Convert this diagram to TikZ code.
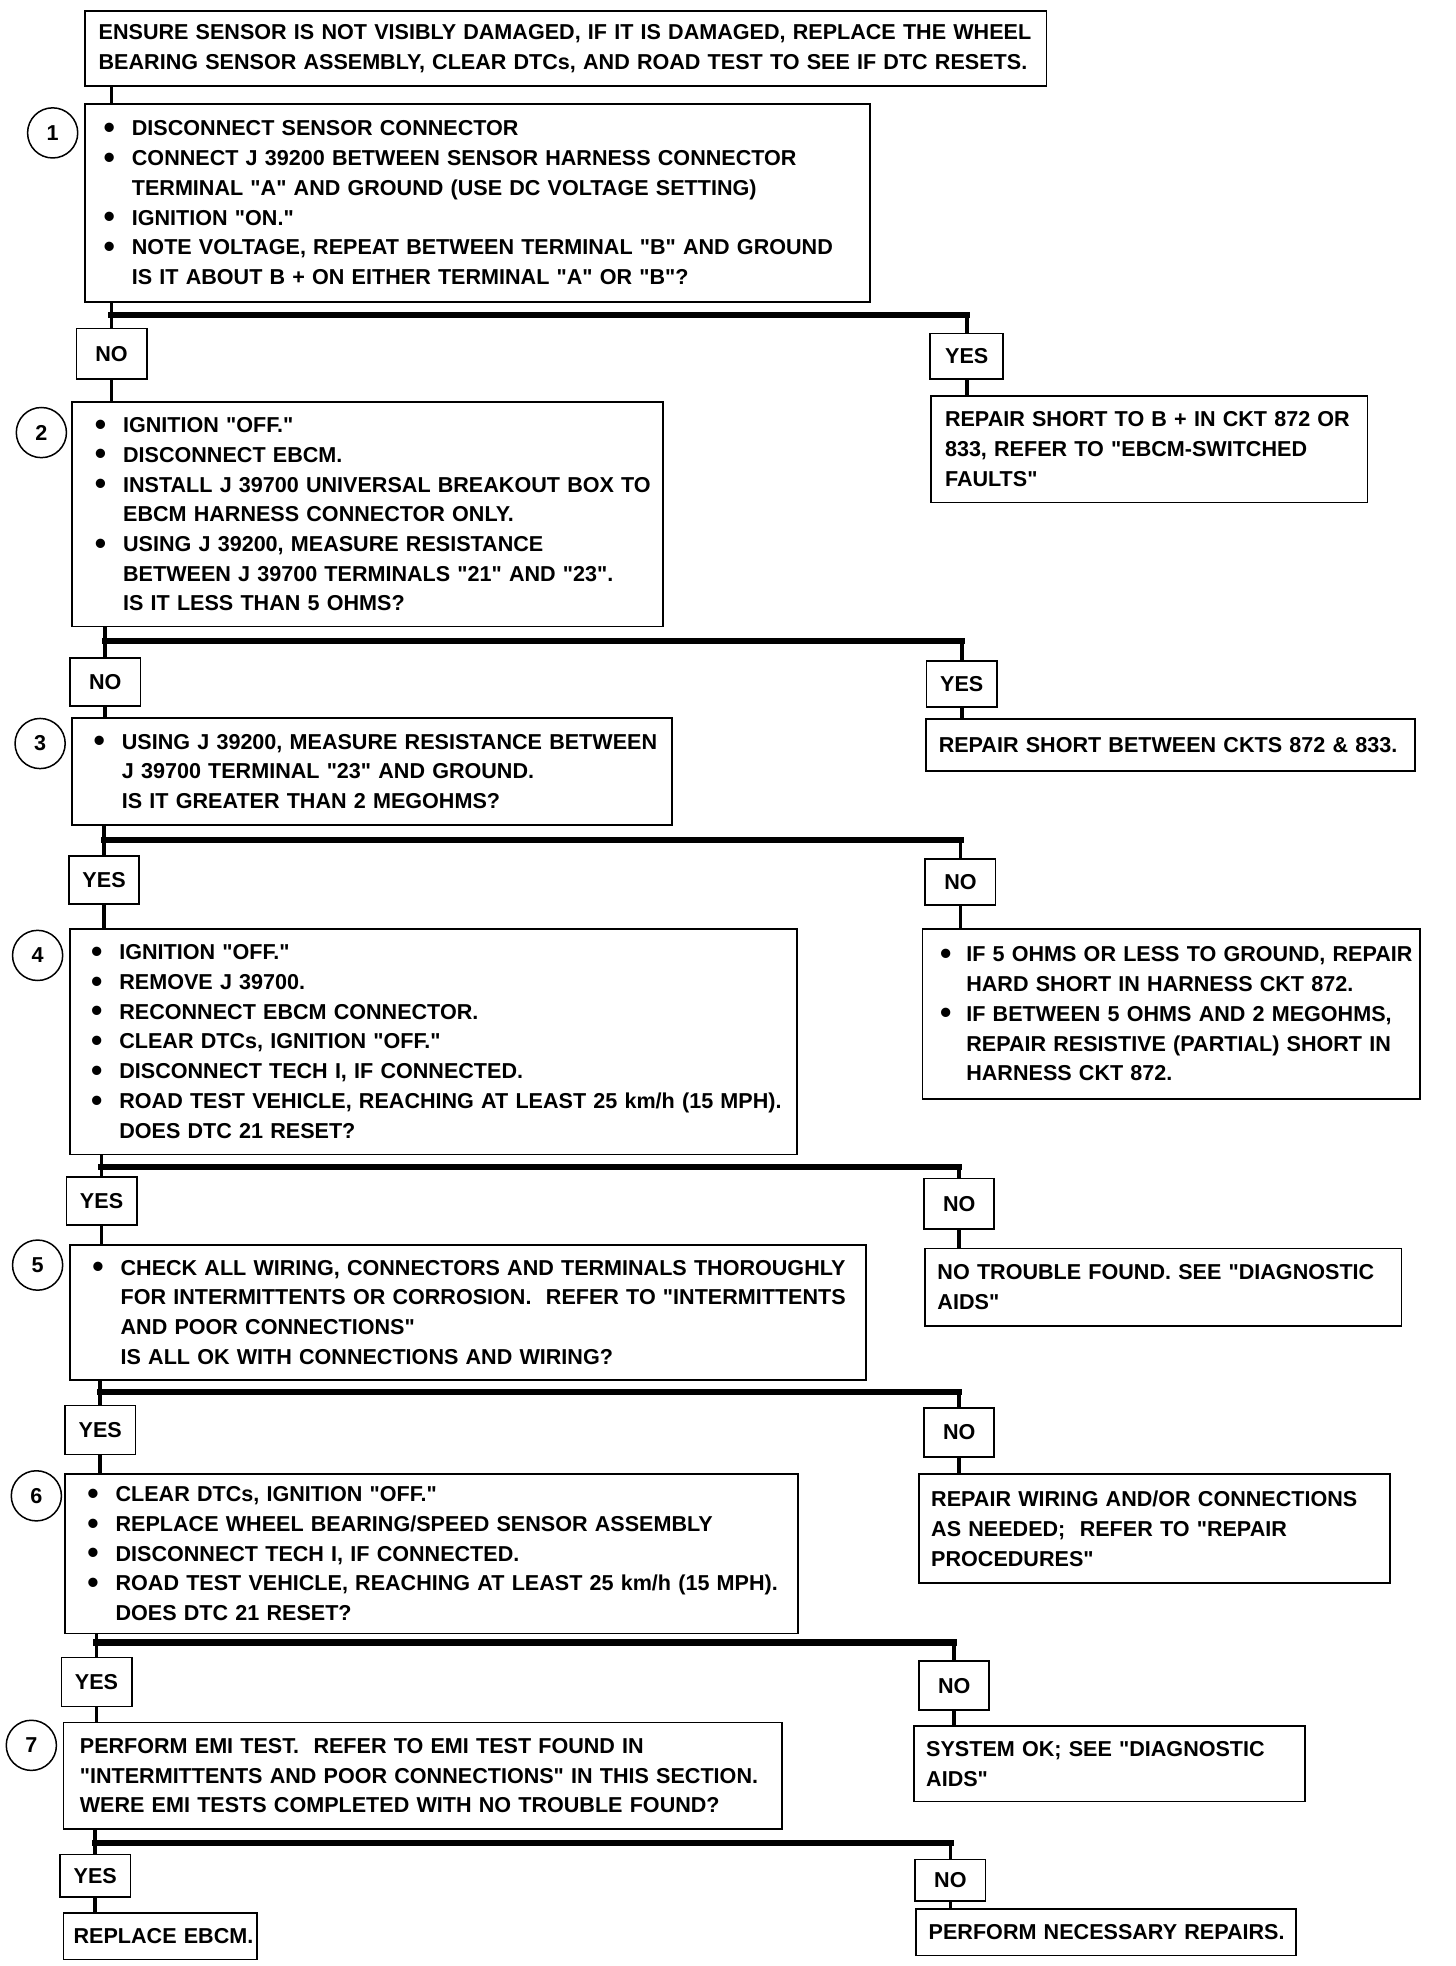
\documentclass[tikz,border=0pt]{standalone}
\usepackage{fontspec}
\setmainfont{Liberation Sans}
\newlength\bw \setlength\bw{22.5pt}
\newcommand\bdot{\raisebox{-0.12em}{\scalebox{1.5}{\textbullet}}}
\newcommand\bul[1]{\mbox{\makebox[\bw][l]{\bdot}#1}}
\newcommand\cnt[1]{\mbox{\hspace*{\bw}#1}}
\newcommand\tx[1]{\mbox{#1}}
\newcommand\q[1]{\textquotedbl#1\textquotedbl}
\newcommand\dfnt{\fontsize{17.2}{23.7}\selectfont\bfseries}
\begin{document}
\begin{tikzpicture}[x=1pt,y=-1pt,
 box/.style={draw, line width=1.4pt, align=left, anchor=north west, inner ysep=0pt, font=\dfnt},
 lab/.style={draw, line width=1.4pt, inner sep=0pt, font=\dfnt, minimum width=56pt},
 numc/.style={draw, circle, line width=1.2pt, minimum size=40pt, inner sep=0pt, font=\dfnt},
 vline/.style={line width=3pt},
 hline/.style={line width=5pt, line cap=rect}]
\useasboundingbox (0,0) rectangle (1161,1568);

% main column boxes
\node[box, minimum width=767pt, minimum height=60pt, text width=745pt, inner xsep=11pt] (t) at (67,8)
 {\tx{ENSURE SENSOR IS NOT VISIBLY DAMAGED, IF IT IS DAMAGED, REPLACE THE WHEEL}\\
  \tx{BEARING SENSOR ASSEMBLY, CLEAR DTCs, AND ROAD TEST TO SEE IF DTC RESETS.}};

\node[box, minimum width=626pt, minimum height=158pt, text width=596pt, inner xsep=15pt] (s1) at (67,82)
 {\bul{DISCONNECT SENSOR CONNECTOR}\\
  \bul{CONNECT J 39200 BETWEEN SENSOR HARNESS CONNECTOR}\\
  \cnt{TERMINAL \q{A} AND GROUND (USE DC VOLTAGE SETTING)}\\
  \bul{IGNITION \q{ON.}}\\
  \bul{NOTE VOLTAGE, REPEAT BETWEEN TERMINAL \q{B} AND GROUND}\\
  \cnt{IS IT ABOUT B + ON EITHER TERMINAL \q{A} OR \q{B}?}};

\node[box, minimum width=471pt, minimum height=179pt, text width=435pt, inner xsep=18pt] (s2) at (57,320)
 {\bul{IGNITION \q{OFF.}}\\
  \bul{DISCONNECT EBCM.}\\
  \bul{INSTALL J 39700 UNIVERSAL BREAKOUT BOX TO}\\
  \cnt{EBCM HARNESS CONNECTOR ONLY.}\\
  \bul{USING J 39200, MEASURE RESISTANCE}\\
  \cnt{BETWEEN J 39700 TERMINALS \q{21} AND \q{23}.}\\
  \cnt{IS IT LESS THAN 5 OHMS?}};

\node[box, minimum width=478pt, minimum height=85pt, text width=444pt, inner xsep=17pt] (s3) at (57,572)
 {\bul{USING J 39200, MEASURE RESISTANCE BETWEEN}\\
  \cnt{J 39700 TERMINAL \q{23} AND GROUND.}\\
  \cnt{IS IT GREATER THAN 2 MEGOHMS?}};

\node[box, minimum width=580pt, minimum height=180pt, text width=546pt, inner xsep=17pt] (s4) at (55,740)
 {\bul{IGNITION \q{OFF.}}\\
  \bul{REMOVE J 39700.}\\
  \bul{RECONNECT EBCM CONNECTOR.}\\
  \bul{CLEAR DTCs, IGNITION \q{OFF.}}\\
  \bul{DISCONNECT TECH I, IF CONNECTED.}\\
  \bul{ROAD TEST VEHICLE, REACHING AT LEAST 25 km/h (15 MPH).}\\
  \cnt{DOES DTC 21 RESET?}};

\node[box, minimum width=635pt, minimum height=108pt, text width=599pt, inner xsep=18pt] (s5) at (55,992)
 {\bul{CHECK ALL WIRING, CONNECTORS AND TERMINALS THOROUGHLY}\\
  \cnt{FOR INTERMITTENTS OR CORROSION.\ \ REFER TO \textquotedbl INTERMITTENTS}\\
  \cnt{AND POOR CONNECTIONS\textquotedbl}\\
  \cnt{IS ALL OK WITH CONNECTIONS AND WIRING?}};

\node[box, minimum width=585pt, minimum height=127pt, text width=549pt, inner xsep=18pt] (s6) at (51,1175)
 {\bul{CLEAR DTCs, IGNITION \q{OFF.}}\\
  \bul{REPLACE WHEEL BEARING/SPEED SENSOR ASSEMBLY}\\
  \bul{DISCONNECT TECH I, IF CONNECTED.}\\
  \bul{ROAD TEST VEHICLE, REACHING AT LEAST 25 km/h (15 MPH).}\\
  \cnt{DOES DTC 21 RESET?}};

\node[box, minimum width=573pt, minimum height=85pt, text width=547pt, inner xsep=13pt] (s7) at (50,1373)
 {\tx{PERFORM EMI TEST.\ \ REFER TO EMI TEST FOUND IN}\\
  \tx{\q{INTERMITTENTS AND POOR CONNECTIONS} IN THIS SECTION.}\\
  \tx{WERE EMI TESTS COMPLETED WITH NO TROUBLE FOUND?}};

\node[box, minimum width=154pt, minimum height=37pt, text width=138pt, inner xsep=8pt] (fl) at (50,1525)
 {\tx{REPLACE EBCM.}};

% outcome boxes
\node[box, minimum width=348pt, minimum height=85pt, text width=326pt, inner xsep=11pt] (o1) at (742,315)
 {\tx{REPAIR SHORT TO B + IN CKT 872 OR}\\
  \tx{833, REFER TO \textquotedbl EBCM-SWITCHED}\\
  \tx{FAULTS\textquotedbl}};

\node[box, minimum width=390pt, minimum height=41pt, text width=370pt, inner xsep=10pt] (o2) at (738,573)
 {\tx{REPAIR SHORT BETWEEN CKTS 872 \& 833.}};

\node[box, minimum width=397pt, minimum height=136pt, text width=369pt, inner xsep=14pt] (o3) at (735,740)
 {\setlength\bw{21pt}%
  \bul{IF 5 OHMS OR LESS TO GROUND, REPAIR}\\
  \cnt{HARD SHORT IN HARNESS CKT 872.}\\
  \bul{IF BETWEEN 5 OHMS AND 2 MEGOHMS,}\\
  \cnt{REPAIR RESISTIVE (PARTIAL) SHORT IN}\\
  \cnt{HARNESS CKT 872.}};

\node[box, minimum width=380pt, minimum height=62pt, text width=360pt, inner xsep=10pt] (o4) at (737,995)
 {\tx{NO TROUBLE FOUND. SEE \textquotedbl DIAGNOSTIC}\\
  \tx{AIDS\textquotedbl}};

\node[box, minimum width=376pt, minimum height=87pt, text width=356pt, inner xsep=10pt] (o5) at (732,1175)
 {\tx{REPAIR WIRING AND/OR CONNECTIONS}\\
  \tx{AS NEEDED;\ \ REFER TO \textquotedbl REPAIR}\\
  \tx{PROCEDURES\textquotedbl}};

\node[box, minimum width=312pt, minimum height=60pt, text width=292pt, inner xsep=10pt] (o6) at (728,1376)
 {\tx{SYSTEM OK; SEE \textquotedbl DIAGNOSTIC}\\
  \tx{AIDS\textquotedbl}};

\node[box, minimum width=303pt, minimum height=37pt, text width=283pt, inner xsep=10pt] (fr) at (730,1522)
 {\tx{PERFORM NECESSARY REPAIRS.}};

% step numbers
\node[numc] (c1) at (42,106) {1};
\node[numc] (c2) at (33,345) {2};
\node[numc] (c3) at (32,593) {3};
\node[numc] (c4) at (30,762) {4};
\node[numc] (c5) at (30,1009) {5};
\node[numc] (c6) at (29,1193) {6};
\node[numc] (c7) at (25,1392) {7};

% yes / no labels
\node[lab, minimum height=40pt] (l1) at (89,282) {NO};
\node[lab, minimum height=36pt, minimum width=58pt] (r1) at (771,284) {YES};
\node[lab, minimum height=38pt] (l2) at (84,544) {NO};
\node[lab, minimum height=37pt] (r2) at (767,545.5) {YES};
\node[lab, minimum height=38pt] (l3) at (83,702) {YES};
\node[lab, minimum height=37pt] (r3) at (766,703.5) {NO};
\node[lab, minimum height=38pt] (l4) at (81,958) {YES};
\node[lab, minimum height=40pt] (r4) at (765,960) {NO};
\node[lab, minimum height=39pt] (l5) at (80,1140.5) {YES};
\node[lab, minimum height=39pt] (r5) at (765,1142.5) {NO};
\node[lab, minimum height=39pt] (l6) at (77,1341.5) {YES};
\node[lab, minimum height=39pt] (r6) at (761,1344.5) {NO};
\node[lab, minimum height=34pt] (l7) at (76,1496) {YES};
\node[lab, minimum height=33pt] (r7) at (758,1499.5) {NO};

% junction levels
\coordinate (j1) at (0,251);
\coordinate (j2) at (0,511);
\coordinate (j3) at (0,670);
\coordinate (j4) at (0,931);
\coordinate (j5) at (0,1110);
\coordinate (j6) at (0,1310);
\coordinate (j7) at (0,1470);

% connectors
\draw[vline] (l1.north |- t.south) -- (l1.north |- s1.north);
\foreach \i/\n in {1/2,2/3,3/4,4/5,5/6,6/7} {
  \draw[vline] (l\i.north |- s\i.south) -- (l\i.north);
  \draw[vline] (l\i.south) -- (l\i.south |- s\n.north);
}
\draw[vline] (l7.north |- s7.south) -- (l7.north);
\draw[vline] (l7.south) -- (l7.south |- fl.north);
\foreach \i in {1,...,7} {
  \draw[hline] (l\i.north |- j\i) -- (r\i.north |- j\i);
  \draw[vline] (r\i.north |- j\i) -- (r\i.north);
}
\foreach \i in {1,...,6} {
  \draw[vline] (r\i.south) -- (r\i.south |- o\i.north);
}
\draw[vline] (r7.south) -- (r7.south |- fr.north);
\end{tikzpicture}
\end{document}
